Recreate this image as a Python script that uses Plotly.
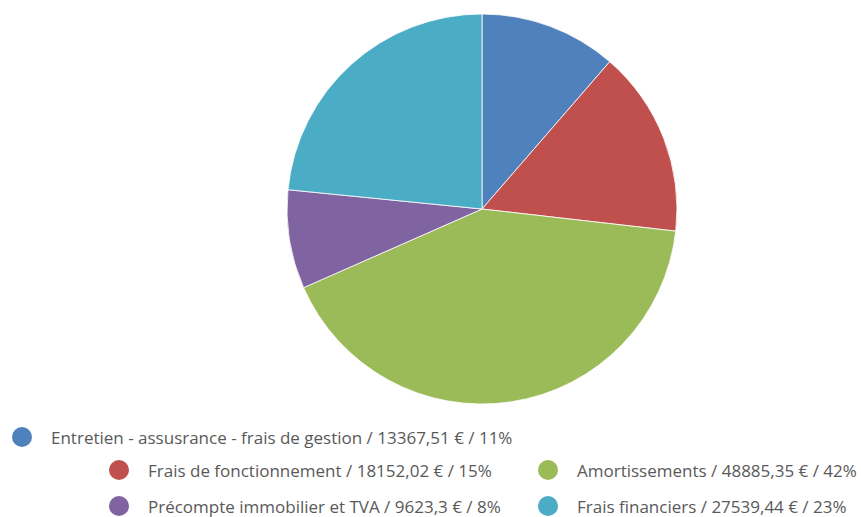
import plotly.graph_objects as go

# Cost breakdown
categories = [
    "Entretien - assusrance - frais de gestion",
    "Frais de fonctionnement",
    "Amortissements",
    "Précompte immobilier et TVA",
    "Frais financiers",
]
amounts = [13367.51, 18152.02, 48885.35, 9623.3, 27539.44]
colors = ["#4F81BD", "#C0504D", "#9BBB59", "#8064A2", "#4BACC6"]

W, H = 861, 517
total = sum(amounts)


def fmt_amount(v):
    s = f"{v:.2f}".rstrip("0").rstrip(".")
    return s.replace(".", ",")


labels = [
    f"{c} / {fmt_amount(v)} € / {round(v / total * 100)}%"
    for c, v in zip(categories, amounts)
]

fig = go.Figure(
    go.Pie(
        labels=labels,
        values=amounts,
        marker=dict(colors=colors, line=dict(color="rgba(255,255,255,0.8)", width=1)),
        sort=False,
        direction="clockwise",
        rotation=0,
        textinfo="none",
        hoverinfo="label",
        showlegend=False,
        domain=dict(x=[287 / W, 677 / W], y=[1 - 404 / H, 1 - 14 / H]),
    )
)

# Legend laid out in rows: one wide entry, then two rows of two entries
legend_pos = [(22, 437), (119, 470), (548, 470), (119, 506), (548, 506)]
r = 10
for (mx, my), lab, col in zip(legend_pos, labels, colors):
    fig.add_shape(
        type="circle",
        xref="paper", yref="paper",
        x0=(mx - r) / W, x1=(mx + r) / W,
        y0=1 - (my + r) / H, y1=1 - (my - r) / H,
        fillcolor=col, line=dict(width=0),
    )
    fig.add_annotation(
        xref="paper", yref="paper",
        x=(mx + 27) / W, y=1 - my / H,
        xanchor="left", yanchor="middle",
        text=lab, showarrow=False,
        font=dict(family="Open Sans", size=17, color="#595959"),
    )

fig.update_layout(
    width=W, height=H,
    margin=dict(l=0, r=0, t=0, b=0),
    paper_bgcolor="white",
    plot_bgcolor="white",
)

fig.write_html("out.html")
